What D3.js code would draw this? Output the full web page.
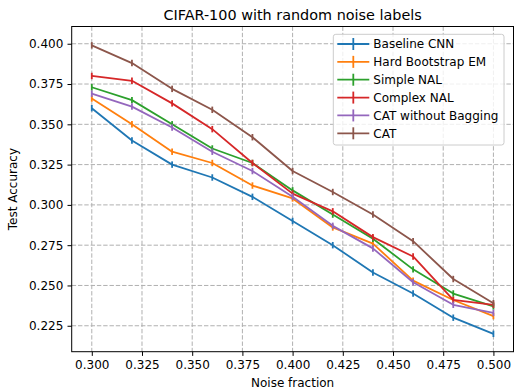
<!DOCTYPE html>
<html><head><meta charset="utf-8">
<script src="https://cdn.jsdelivr.net/npm/d3@7"></script>
<style>body{margin:0;background:#fff}svg{display:block}text{font-family:"DejaVu Sans",sans-serif;fill:#000}</style>
</head><body><svg id="c" width="514" height="388"></svg>
<script>
const noiseFractions = [0.30,0.32,0.34,0.36,0.38,0.40,0.42,0.44,0.46,0.48,0.50];
const seriesNames = ["Baseline CNN","Hard Bootstrap EM","Simple NAL","Complex NAL","CAT without Bagging","CAT"];
const seriesColors = ["#1f77b4","#ff7f0e","#2ca02c","#d62728","#9467bd","#8c564b"];
const baselineCNN   = [0.360,0.340,0.325,0.317,0.305,0.290,0.275,0.258,0.245,0.230,0.220];
const hardBootstrap = [0.366,0.350,0.333,0.326,0.312,0.304,0.286,0.276,0.253,0.241,0.231];
const simpleNAL     = [0.373,0.365,0.350,0.335,0.326,0.309,0.294,0.279,0.260,0.245,0.237];
const complexNAL    = [0.380,0.377,0.363,0.347,0.326,0.307,0.296,0.280,0.268,0.241,0.238];
const catNoBagging  = [0.369,0.361,0.348,0.333,0.321,0.305,0.287,0.273,0.252,0.238,0.233];
const cat           = [0.399,0.388,0.372,0.359,0.342,0.321,0.308,0.294,0.2775,0.254,0.239];
const errorHalf     = [0.002,0.002,0.002,0.002,0.002,0.002,0.002,0.002,0.002,0.002,0.002];
const xTicks = [0.300,0.325,0.350,0.375,0.400,0.425,0.450,0.475,0.500];
const yTicks = [0.225,0.250,0.275,0.300,0.325,0.350,0.375,0.400];
const seriesValues = [baselineCNN,hardBootstrap,simpleNAL,complexNAL,catNoBagging,cat];

const L=71.7, R=513.5, T=26.5, B=351.7;
const svg=d3.select("#c");
const x=d3.scaleLinear().domain([0.29,0.51]).range([L,R]);
const y=d3.scaleLinear().domain([0.2089,0.4107]).range([B,T]);

// grid
const grid=svg.append("g").attr("stroke","#b0b0b0").attr("stroke-width",1).attr("stroke-dasharray","4.4,1.9");
grid.selectAll("line.v").data(xTicks).join("line").attr("x1",d=>x(d)).attr("x2",d=>x(d)).attr("y1",T).attr("y2",B);
grid.selectAll("line.h").data(yTicks).join("line").attr("y1",d=>y(d)).attr("y2",d=>y(d)).attr("x1",L).attr("x2",R);

// series
const line=d3.line().x(d=>x(d[0])).y(d=>y(d[1]));
seriesValues.forEach((vals,i)=>{
  const pts=noiseFractions.map((f,j)=>[f,vals[j],errorHalf[j]]);
  const g=svg.append("g");
  g.append("path").attr("d",line(pts)).attr("fill","none").attr("stroke",seriesColors[i]).attr("stroke-width",1.8).attr("stroke-linejoin","round");
  g.selectAll("line").data(pts).join("line")
    .attr("x1",d=>x(d[0])).attr("x2",d=>x(d[0]))
    .attr("y1",d=>y(d[1]-d[2])).attr("y2",d=>y(d[1]+d[2]))
    .attr("stroke",seriesColors[i]).attr("stroke-width",1.8);
});

// spines
svg.append("rect").attr("x",L).attr("y",T).attr("width",R-L).attr("height",B-T).attr("fill","none").attr("stroke","#000").attr("stroke-width",1);

// axes
const xa=svg.append("g").attr("transform",`translate(0,${B})`)
  .call(d3.axisBottom(x).tickValues(xTicks).tickFormat(d3.format(".3f")).tickSize(4.2).tickPadding(4.2));
const ya=svg.append("g").attr("transform",`translate(${L},0)`)
  .call(d3.axisLeft(y).tickValues(yTicks).tickFormat(d3.format(".3f")).tickSize(4.2).tickPadding(4.2));
[xa,ya].forEach(a=>{a.select(".domain").remove();a.selectAll("text").attr("font-size",12).attr("font-family","DejaVu Sans").attr("fill","#000");a.selectAll("line").attr("stroke","#000");});

// labels
svg.append("text").attr("x",(L+R)/2).attr("y",20).attr("text-anchor","middle").attr("font-size",14.4).text("CIFAR-100 with random noise labels");
svg.append("text").attr("x",(L+R)/2).attr("y",386.5).attr("text-anchor","middle").attr("font-size",12).text("Noise fraction");
svg.append("text").attr("transform",`translate(17,${(T+B)/2}) rotate(-90)`).attr("text-anchor","middle").attr("font-size",12).text("Test Accuracy");

// legend
const lg=svg.append("g");
lg.append("rect").attr("x",333.3).attr("y",34.3).attr("width",170.7).attr("height",110.7).attr("rx",2.5)
  .attr("fill","#fff").attr("fill-opacity",0.8).attr("stroke","#cccccc").attr("stroke-width",1);
seriesNames.forEach((n,i)=>{
  const cy=44+i*17.86;
  lg.append("line").attr("x1",337.3).attr("x2",369.3).attr("y1",cy).attr("y2",cy).attr("stroke",seriesColors[i]).attr("stroke-width",1.8);
  lg.append("line").attr("x1",353.3).attr("x2",353.3).attr("y1",cy-6).attr("y2",cy+6).attr("stroke",seriesColors[i]).attr("stroke-width",1.8);
  lg.append("text").attr("x",373.3).attr("y",cy).attr("dy","0.36em").attr("font-size",12).text(n);
});
</script></body></html>
